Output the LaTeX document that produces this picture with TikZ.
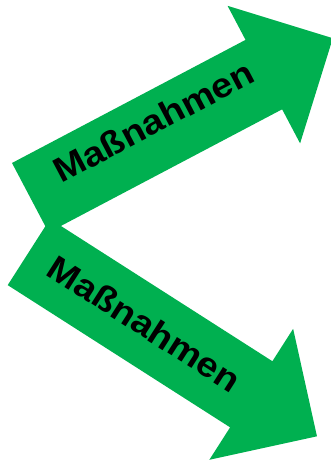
\documentclass[tikz,border=0pt]{standalone}
\usepackage{fontspec}
\setmainfont{Liberation Sans}
\definecolor{arrowgreen}{HTML}{00B050}
\tikzset{
  bigarrow/.style={fill=arrowgreen, draw=none},
  arrowlabel/.style={anchor=base, inner sep=0pt, transform shape,
    font=\fontsize{34.5}{40}\selectfont\bfseries, text=black}
}
\newcommand{\arrowshape}{(0,0) -- (264,0) -- (264,38.5) -- (342,-39.25) -- (264,-117) -- (264,-78.5) -- (0,-78.5) -- cycle}
\begin{document}
\begin{tikzpicture}[x=1pt,y=1pt]
\useasboundingbox (0,0) rectangle (331,462);
\begin{scope}[shift={(12,299)}, rotate=27.8]
  \fill[bigarrow] \arrowshape;
  \node[arrowlabel] (upper) at (144.5,-41.5) {\scalebox{1.1}[1]{Maßnahmen}};
\end{scope}
\begin{scope}[shift={(50,243)}, rotate=-32.6]
  \fill[bigarrow] \arrowshape;
  \node[arrowlabel] (lower) at (136,-49.5) {\scalebox{1.1}[1]{Maßnahmen}};
\end{scope}
\end{tikzpicture}
\end{document}
